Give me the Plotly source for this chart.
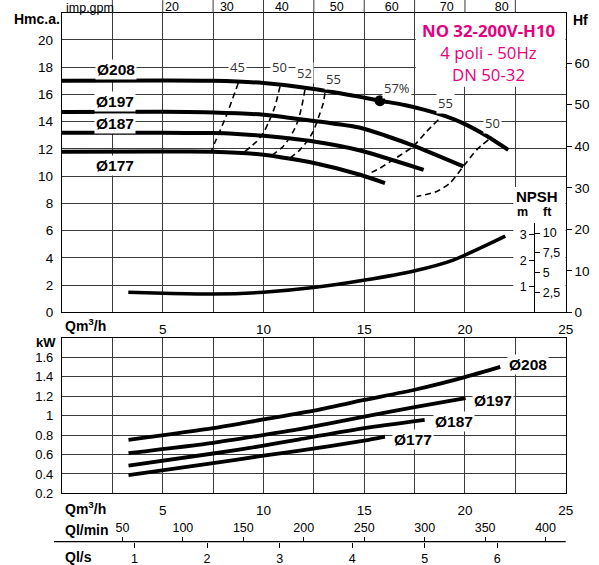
import plotly.graph_objects as go

# ---------------- data ----------------
# Head curves (Q in m3/h, H in m)
q_208 = [0, 5, 7.5, 10, 12.5, 14.8, 15.78, 17, 18, 19, 20, 21, 22.15]
h_208 = [17.0, 17.02, 17.0, 16.84, 16.4, 15.82, 15.54, 15.22, 14.86, 14.42, 13.82, 13.02, 11.93]
q_197 = [0, 5, 7.5, 10, 12.5, 14.8, 16, 17.5, 19.92]
h_197 = [14.71, 14.72, 14.68, 14.51, 14.05, 13.55, 13.0, 12.2, 10.71]
q_187 = [0, 5, 7.5, 8.5, 10, 12.5, 14.8, 17.95]
h_187 = [13.18, 13.18, 13.16, 13.12, 12.96, 12.54, 11.88, 10.46]
q_177 = [0, 5, 7.5, 10, 12.5, 14.8, 16.03]
h_177 = [11.79, 11.8, 11.79, 11.57, 10.96, 10.1, 9.49]

# Iso-efficiency curves
eff_45_q = [8.75, 8.14, 7.43]
eff_45_h = [16.84, 14.38, 11.93]
eff_50_q = [10.82, 10.57, 10.24, 9.99, 9.66, 9.08]
eff_50_h = [16.59, 15.12, 13.9, 13.16, 12.54, 11.81]
eff_52_q = [12.06, 11.9, 11.73, 11.48, 10.98, 10.32]
eff_52_h = [16.35, 15.12, 14.14, 13.28, 12.18, 11.44]
eff_55a_q = [13.05, 12.97, 12.72, 12.47, 12.22, 11.81, 11.32]
eff_55a_h = [16.1, 15.37, 14.26, 13.28, 12.67, 11.93, 11.32]
eff_55b_q = [18.68, 18.1, 17.43, 16.44, 15.78, 15.29]
eff_55b_h = [14.14, 13.28, 12.18, 11.2, 10.59, 10.22]
eff_50b_q = [21.16, 20.58, 19.92, 19.26, 18.6, 17.6]
eff_50b_h = [12.67, 11.93, 10.71, 9.49, 8.87, 8.5]
best_q = [15.78]
best_h = [15.54]

# NPSH (m)
npsh_q = [3.29, 5.03, 7.51, 10.0, 12.48, 15.04, 17.52, 19.42, 22.0]
npsh_m = [0.77, 0.73, 0.70, 0.77, 0.95, 1.24, 1.6, 2.01, 2.93]

# Power curves (kW)
p_208_q = [3.3, 7.5, 10, 12.5, 15, 17.5, 20, 21.75]
p_208_kw = [0.75, 0.87, 0.96, 1.05, 1.16, 1.265, 1.395, 1.50]
p_197_q = [3.3, 7.5, 10, 11.8, 15, 17.5, 20.03]
p_197_kw = [0.613, 0.72, 0.80, 0.86, 0.99, 1.086, 1.18]
p_187_q = [3.3, 7.5, 10, 11.8, 15, 18.0]
p_187_kw = [0.485, 0.61, 0.69, 0.756, 0.87, 0.955]
p_177_q = [3.3, 7.5, 10, 11.8, 15, 16.03]
p_177_kw = [0.389, 0.51, 0.588, 0.64, 0.742, 0.783]

# Axis ticks
q_ticks = [0, 2.5, 5, 7.5, 10, 12.5, 15, 17.5, 20, 22.5, 25]
q_text = ["", "", "5", "", "10", "", "15", "", "20", "", "25"]
h_ticks = [0, 2, 4, 6, 8, 10, 12, 14, 16, 18, 20]
hf_ticks = [0, 10, 20, 30, 40, 50, 60]
kw_ticks = [0.2, 0.4, 0.6, 0.8, 1.0, 1.2, 1.4, 1.6]
kw_text = ["0.2", "0.4", "0.6", "0.8", "1", "1.2", "1.4", "1.6"]
lmin_ticks = [50, 100, 150, 200, 250, 300, 350, 400]
ls_ticks = [1, 2, 3, 4, 5, 6]
gpm_ticks = [20, 30, 40, 50, 60, 70, 80]
npsh_m_ticks = [1, 2, 3]
npsh_ft_ticks = [2.5, 5, 7.5, 10]
npsh_ft_text = ["2,5", "5", "7,5", "10"]

# ---------------- layout helpers ----------------
W, H = 599, 565
def PX(x): return x / W
def PY(y): return 1 - y / H

XL, XR = 62, 565.7
TOP_B, TOP_T = 312.3, 12.7
BOT_B, BOT_T = 493.4, 337.7
H_MAX = 22.0
NPSH_TOP = 223.0
npsh_range = (TOP_B - NPSH_TOP) / 26.0

BLACK = "#000000"
GRID = "#3a3a3a"
SANS = "Liberation Sans, Arial, sans-serif"
OPEN = "Open Sans, sans-serif"
MAG = "#E5007E"

fig = go.Figure()

def curve(q, v, xa, ya, width=4, dash=None):
    fig.add_trace(go.Scatter(x=q, y=v, mode="lines", xaxis=xa, yaxis=ya,
                             line=dict(color=BLACK, width=width, shape="spline",
                                       smoothing=0.6, dash=dash),
                             showlegend=False, hoverinfo="skip"))

for q, h in [(q_208, h_208), (q_197, h_197), (q_187, h_187), (q_177, h_177)]:
    curve(q, h, "x", "y", 4)
for q, h in [(eff_45_q, eff_45_h), (eff_50_q, eff_50_h), (eff_52_q, eff_52_h),
             (eff_55a_q, eff_55a_h), (eff_55b_q, eff_55b_h), (eff_50b_q, eff_50b_h)]:
    curve(q, h, "x", "y", 1.6, "6px,4px")
fig.add_trace(go.Scatter(x=best_q, y=best_h, mode="markers", xaxis="x", yaxis="y",
                         marker=dict(color=BLACK, size=11), showlegend=False, hoverinfo="skip"))
curve(npsh_q, npsh_m, "x6", "y4", 3.5)
for q, p in [(p_208_q, p_208_kw), (p_197_q, p_197_kw), (p_187_q, p_187_kw), (p_177_q, p_177_kw)]:
    curve(q, p, "x2", "y3", 3.8)

# dummy traces so that secondary axes are rendered
for xa, ya in [("x", "y2"), ("x3", "y3"), ("x4", "y3"), ("x5", "y"), ("x6", "y5")]:
    fig.add_trace(go.Scatter(x=[None], y=[None], xaxis=xa, yaxis=ya,
                             showlegend=False, hoverinfo="skip"))

xdom = [PX(XL), PX(XR)]
base_x = dict(domain=xdom, range=[0, 25], tickvals=q_ticks, ticktext=q_text,
              showgrid=True, gridcolor=GRID, gridwidth=1, zeroline=False,
              showline=True, mirror=True, linecolor=BLACK, linewidth=1.3,
              ticks="", tickfont=dict(family=SANS, size=13.5, color=BLACK),
              ticklabelstandoff=4, fixedrange=True, automargin=False)

fig.update_layout(
    width=W, height=H, margin=dict(l=0, r=0, t=0, b=0, pad=0, autoexpand=False),
    paper_bgcolor="white", plot_bgcolor="rgba(0,0,0,0)",
    xaxis=dict(base_x, anchor="y"),
    yaxis=dict(domain=[PY(TOP_B), PY(TOP_T)], range=[0, H_MAX], anchor="x",
               tickvals=h_ticks, showgrid=True, gridcolor=GRID, gridwidth=1,
               zeroline=False, showline=True, mirror=True, linecolor=BLACK,
               linewidth=1.3, ticks="", ticklabelstandoff=5, automargin=False,
               tickfont=dict(family=SANS, size=13.5, color=BLACK)),
    yaxis2=dict(overlaying="y", side="right", range=[0, H_MAX * 3.28084],
                tickvals=hf_ticks, ticks="outside", ticklen=5, tickcolor=BLACK,
                showgrid=False, zeroline=False, showline=False, automargin=False,
                tickfont=dict(family=SANS, size=13.5, color=BLACK)),
    xaxis2=dict(base_x, anchor="y3"),
    yaxis3=dict(domain=[PY(BOT_B), PY(BOT_T)], range=[0.2, 1.8], anchor="x2",
                tickvals=kw_ticks, ticktext=kw_text, showgrid=True, gridcolor=GRID,
                gridwidth=1, zeroline=False, showline=True, mirror=True,
                linecolor=BLACK, linewidth=1.3, ticks="", ticklabelstandoff=5,
                automargin=False, tickfont=dict(family=SANS, size=13, color=BLACK)),
    xaxis3=dict(overlaying="x2", anchor="free", position=PY(541.7), side="top",
                range=[0, 25 * 1000 / 60], tickvals=lmin_ticks, ticks="outside",
                ticklen=5, tickcolor=BLACK, showgrid=False, zeroline=False,
                showline=False, automargin=False,
                tickfont=dict(family=SANS, size=12.5, color=BLACK)),
    xaxis4=dict(overlaying="x2", anchor="free", position=PY(541.7), side="bottom",
                range=[0, 25 / 3.6], tickvals=ls_ticks, ticks="outside",
                ticklen=5, tickcolor=BLACK, showgrid=False, zeroline=False,
                showline=False, automargin=False,
                tickfont=dict(family=SANS, size=12.5, color=BLACK)),
    xaxis5=dict(overlaying="x", anchor="free", position=PY(14.5), side="top",
                range=[0, 25 / 0.2727654], tickvals=gpm_ticks, ticks="",
                showgrid=False, zeroline=False, showline=False, automargin=False,
                ticklabelstandoff=1,
                tickfont=dict(family=SANS, size=12.5, color=BLACK)),
    xaxis6=dict(domain=xdom, range=[0, 25], anchor="y4", visible=False,
                automargin=False),
    yaxis4=dict(domain=[PY(TOP_B), PY(NPSH_TOP)], range=[0, npsh_range],
                anchor="free", position=PX(534.3), side="left",
                tickvals=npsh_m_ticks, ticks="outside", ticklen=5, tickcolor=BLACK,
                showgrid=False, zeroline=False, showline=True, linecolor=BLACK,
                linewidth=1, automargin=False,
                tickfont=dict(family=SANS, size=12.5, color=BLACK)),
    yaxis5=dict(overlaying="y4", anchor="free", position=PX(534.3), side="right",
                range=[0, npsh_range * 3.28084], tickvals=npsh_ft_ticks,
                ticktext=npsh_ft_text, ticks="outside", ticklen=5, tickcolor=BLACK,
                showgrid=False, zeroline=False, showline=False, automargin=False,
                tickfont=dict(family=SANS, size=12.5, color=BLACK)),
)

# white boxes hiding gridlines (title area and NPSH axis area)
fig.add_shape(type="rect", xref="x", yref="y", x0=17.56, x1=25, y0=16.57, y1=H_MAX,
              fillcolor="white", line=dict(width=0), layer="between")
fig.add_shape(type="rect", xref="x", yref="y", x0=22.4, x1=25, y0=0, y1=9.2,
              fillcolor="white", line=dict(width=0), layer="between")
# gridline extensions above the top chart
for xv in q_ticks[1:-1]:
    fig.add_shape(type="line", xref="x", yref="paper", x0=xv, x1=xv,
                  y0=PY(TOP_T), y1=1.0, line=dict(color=GRID, width=1))
# flow scale baseline
fig.add_shape(type="line", xref="paper", yref="paper", x0=PX(54), x1=PX(XR),
              y0=PY(541.7), y1=PY(541.7), line=dict(color=BLACK, width=1.3))

def ann(text, x, y, size=13, bold=False, family=SANS, color=BLACK,
        xanchor="center", bg=None, pad=1):
    fig.add_annotation(text=("<b>%s</b>" % text) if bold else text,
                       x=PX(x), y=PY(y), xref="paper", yref="paper",
                       xanchor=xanchor, yanchor="middle", showarrow=False,
                       font=dict(family=family, size=size, color=color),
                       bgcolor=bg, borderpad=pad)

ann("imp.gpm", 90, 7.5, 12.5, pad=0)
ann("Hmc.a.", 36.5, 19, 14, True)
ann("Hf", 580.5, 20, 14, True)
ann("kW", 46, 342, 13, True)
ann("Qm<sup>3</sup>/h", 63, 325, 14, True, xanchor="left")
ann("Qm<sup>3</sup>/h", 63, 508.3, 14, True, xanchor="left")
ann("Ql/min", 63, 530, 14, True, xanchor="left")
ann("Ql/s", 63, 556.7, 14, True, xanchor="left")
ann("NPSH", 536.5, 196, 15, True)
ann("m", 522, 212, 12.5, True)
ann("ft", 547, 212, 12.5, True)

# title block as one multi-line annotation
fig.add_annotation(text="<b>NO 32-200V-H10</b><br>4 poli - 50Hz<br>DN 50-32",
                   x=PX(488), y=PY(52.5), xref="paper", yref="paper",
                   xanchor="center", yanchor="middle", showarrow=False, align="center",
                   font=dict(family=OPEN, size=16.8, color=MAG))

for t, x, y in [("Ø208", 115.5, 69.5), ("Ø197", 115, 101), ("Ø187", 115, 124),
                ("Ø177", 115, 165)]:
    ann(t, x, y, 15.5, True, bg="white")
for t, x, y in [("Ø208", 527.5, 364), ("Ø197", 492.5, 400), ("Ø187", 453.5, 421),
                ("Ø177", 413, 439.5)]:
    ann(t, x, y, 15.5, True, bg="white")
for t, x, y in [("45", 237.5, 66.5), ("50", 279, 66.5), ("52", 304.5, 73),
                ("55", 333.5, 79), ("57%", 396.5, 87.5), ("55", 445.5, 103),
                ("50", 492.5, 123)]:
    ann(t, x, y, 13, False, OPEN, "#333333", bg="white")

fig.write_html("out.html")
